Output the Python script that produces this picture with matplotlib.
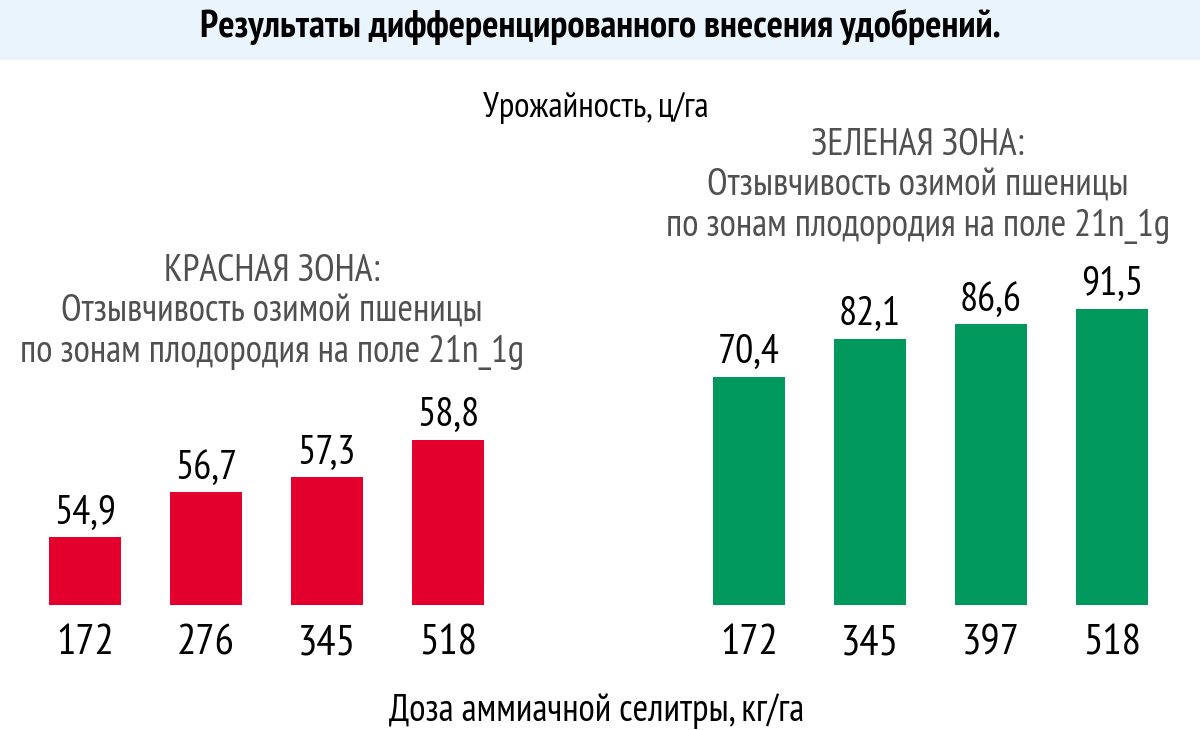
import numpy as np
import matplotlib
matplotlib.use('Agg')
import matplotlib.pyplot as plt
from matplotlib.patches import Rectangle

plt.rcParams['font.family'] = ['PT Sans Narrow', 'DejaVu Sans']

# data
red_doses = ['172', '276', '345', '518']
red_yield = [54.9, 56.7, 57.3, 58.8]
green_doses = ['172', '345', '397', '518']
green_yield = [70.4, 82.1, 86.6, 91.5]

red_color = '#e3002c'
green_color = '#00985c'
gray = '#505050'

W, H = 1200, 730
fig = plt.figure(figsize=(W / 100, H / 100), dpi=100)

# title band
fig.patches.append(Rectangle((0, (H - 60) / H), 1, 60 / H, transform=fig.transFigure,
                             facecolor='#eaf4fd', edgecolor='none', zorder=0))
fig.text(0.5, (H - 27) / H, 'Результаты дифференцированного внесения удобрений.',
         ha='center', va='center', fontsize=27.5, fontweight='bold')


def px_axes(left, right, bottom, top):
    return fig.add_axes([left / W, (H - bottom) / H, (right - left) / W, (bottom - top) / H])


def draw_zone(ax, doses, values, color, ylim):
    x = np.arange(len(values))
    bars = ax.bar(x, values, width=0.6, color=color)
    ax.set_xlim(-0.5, len(values) - 0.5)
    ax.set_ylim(*ylim)
    labels = [f'{v:.1f}'.replace('.', ',') for v in values]
    ax.bar_label(bars, labels=labels, padding=4, fontsize=29)
    ax.set_xticks(x, doses, fontsize=31)
    ax.tick_params(axis='x', length=0, pad=14)
    ax.set_yticks([])
    for s in ax.spines.values():
        s.set_visible(False)
    ax.patch.set_alpha(0)


# red zone: axis from 605 px (bottom) to 250 px (top)
ax1 = px_axes(24.5, 508.5, 605, 250)
draw_zone(ax1, red_doses, red_yield, red_color, (52.17, 52.17 + 355 / 24.9))

ax2 = px_axes(688.5, 1172.5, 605, 250)
draw_zone(ax2, green_doses, green_yield, green_color, (0, 355 / 3.24))

fig.text(596 / W, (H - 108) / H, 'Урожайность, ц/га', ha='center', va='center', fontsize=25.5)

fig.text(918 / W, (H - 186) / H,
         'ЗЕЛЕНАЯ ЗОНА:\nОтзывчивость озимой пшеницы\nпо зонам плодородия на поле 21n_1g',
         ha='center', va='center', fontsize=27, color=gray, linespacing=1.22)
fig.text(272 / W, (H - 312) / H,
         'КРАСНАЯ ЗОНА:\nОтзывчивость озимой пшеницы\nпо зонам плодородия на поле 21n_1g',
         ha='center', va='center', fontsize=27, color=gray, linespacing=1.22)

fig.text(597 / W, (H - 711) / H, 'Доза аммиачной селитры, кг/га', ha='center', va='center',
         fontsize=27)

fig.savefig('out.png', dpi=100)
